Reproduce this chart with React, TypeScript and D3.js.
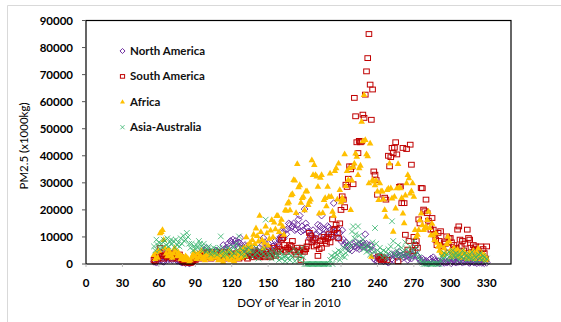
import * as d3 from 'd3'

// first DOY of every series; one value per day after it
const startDay = 56

const northAmerica = [
  800, 1200, 500, 1500, 1000, 2000, 1500, 1000, 800, 1800,
  2000, 1500, 2500, 1800, 2200, 1500, 2000, 2500, 1800, 1200,
  1500, 1000, 800, 500, 1200, 600, 300, 800, 500, 200,
  400, 600, 1000, 1500, 2500, 3000, 2500, 3500, 4000, 3000,
  4500, 3500, 5000, 5900, 4000, 3500, 4500, 3000, 2500, 4000,
  3500, 5000, 4500, 3000, 4000, 3500, 4500, 7000, 5500, 5000,
  6000, 7500, 6500, 8500, 8000, 9000, 7000, 8500, 7500, 6500,
  8000, 9600, 7000, 6000, 5500, 7000, 6500, 4500, 5000, 4000,
  3500, 4500, 5500, 3000, 4000, 5000, 3500, 6000, 4500, 7000,
  9600, 8000, 6500, 5500, 7500, 6000, 5000, 4500, 6500, 7000,
  8500, 6000, 7500, 9000, 10000, 12000, 11500, 9500, 12500, 11000,
  13000, 15000, 14500, 13500, 14000, 15000, 12500, 13000, 14500, 16500,
  17900, 12000, 14000, 12500, 20300, 15000, 13500, 12000, 9500, 11000,
  10500, 12500, 8500, 9500, 11000, 14500, 12000, 14000, 17900, 13000,
  11000, 12500, 10000, 14000, 13500, 12500, 11000, 10500, 22500, 12000,
  10000, 13000, 9500, 11500, 8500, 12500, 9000, 7000, 8000, 6500,
  7000, 5500, 6000, 5000, 7500, 6500, 8000, 6000, 7000, 5500,
  7500, 6500, 8000, 7000, 11000, 7500, 6000, 5500, 7000, 6500,
  5000, 2000, 1500, 2500, 1000, 2000, 3000, 1500, 2500, 1000,
  1500, 2000, 1000, 500, 2500, 3500, 2000, 1500, 3000, 4000,
  2500, 3500, 4500, 3000, 2000, 3500, 2500, 4000, 3000, 1500,
  2500, 3500, 2000, 3000, 4000, 5000, 7100, 3000, 2000, 1500,
  1000, 2000, 1500, 500, 1200, 800, 300, 1500, 2000, 1000,
  2500, 1500, 800, 500, 1000, 300, 600, 1200, 800, 400,
  1000, 500, 800, 1500, 600, 300, 1000, 1400, 700, 500,
  1200, 800, 1600, 1000, 500, 1200, 800, 1500, 1000, 600,
  400, 900, 1300, 700, 500, 1100, 300, 800, 600, 1000,
  400, 700, 300, 900, 500,
]

const southAmerica = [
  1500, 1000, 2500, 2000, 3500, 5900, 4500, 3000, 2000, 3500,
  3000, 2500, 4000, 3500, 3000, 2000, 3500, 4000, 2500, 3000,
  2000, 3500, 2500, 1500, 1000, 800, 500, 1200, 600, 900,
  400, 700, 1000, 2000, 1500, 2500, 3000, 2000, 3500, 2500,
  3000, 4000, 2500, 3500, 3000, 4500, 3500, 2000, 4000, 3500,
  2500, 3000, 4500, 3500, 2500, 4000, 3000, 3500, 2000, 4500,
  3000, 2500, 4000, 3500, 3000, 2000, 3500, 2500, 4000, 3000,
  2000, 3000, 3500, 2500, 4000, 3000, 3500, 2000, 3000, 4500,
  3500, 2500, 4000, 5000, 3500, 3000, 4500, 2500, 3500, 4000,
  3000, 2500, 4500, 3500, 5500, 3000, 2500, 4000, 6000, 3500,
  3000, 5000, 4500, 6500, 5500, 9000, 9600, 7000, 5000, 4500,
  6000, 5500, 7000, 6500, 8500, 5000, 4500, 3500, 6000, 5000,
  4500, 1500, 6000, 5000, 4500, 5500, 6500, 8000, 11500, 10500,
  8000, 9000, 6500, 9500, 7000, 3000, 5500, 8500, 6000, 9000,
  10000, 8500, 7500, 9500, 11000, 8000, 10000, 16500, 12500, 13000,
  14500, 11500, 9500, 15000, 20000, 25000, 23800, 21000, 29300, 28500,
  31500, 36100, 35000, 36000, 29500, 61400, 54600, 45000, 41000, 45500,
  45000, 45300, 55200, 54000, 62600, 71200, 76100, 85000, 66300, 53300,
  64500, 34200, 33000, 31000, 25600, 2800, 2000, 1500, 2500, 1800,
  24500, 23800, 1500, 40000, 36100, 39500, 42900, 41000, 43000, 45000,
  40500, 1000, 28500, 28700, 22500, 42900, 22500, 10800, 42500, 5300,
  8500, 44100, 36700, 4700, 10000, 7000, 8500, 6000, 16500, 15000,
  28100, 28000, 20100, 19500, 23800, 18800, 16000, 13900, 12700, 17000,
  12700, 11000, 9000, 7000, 11500, 8500, 12100, 6500, 5000, 8000,
  7500, 10200, 6000, 9500, 9600, 8000, 4500, 7000, 5500, 6000,
  12700, 13900, 9000, 6500, 8500, 5000, 7500, 4000, 12700, 9600,
  9000, 6000, 4500, 7000, 5500, 6500, 3500, 5000, 4000, 6500,
  3000, 5500, 4000, 2000, 6500,
]

const africa = [
  3500, 2000, 4500, 2500, 5000, 11500, 12000, 12700, 9000, 6000,
  4000, 3000, 5500, 4500, 3500, 2500, 4000, 6000, 5000, 3000,
  4500, 3500, 2000, 3000, 2500, 1500, 3000, 2500, 2000, 1000,
  1500, 2500, 3500, 4500, 3000, 2000, 4000, 2500, 3500, 5000,
  2000, 3000, 1500, 3500, 4000, 2500, 3000, 2000, 4500, 3500,
  2500, 4000, 3000, 1500, 2000, 3500, 4500, 1000, 2500, 4000,
  3000, 2000, 5000, 1500, 3500, 2500, 1200, 3000, 4500, 2000,
  3500, 5500, 2500, 4000, 6000, 3000, 10000, 7000, 5000, 8000,
  6500, 9000, 11000, 7500, 13300, 10500, 8500, 18000, 12000, 9000,
  6000, 8000, 14000, 11500, 7000, 9500, 12500, 16400, 10000, 15500,
  13000, 17900, 18000, 12000, 15000, 16500, 14000, 11000, 20000, 19800,
  22500, 23000, 20000, 25600, 26000, 31200, 31000, 19000, 37100, 28500,
  29300, 22800, 24500, 25000, 20000, 26900, 27000, 22000, 23200, 24000,
  38500, 33000, 36700, 33000, 32500, 28700, 18800, 32000, 33000, 19000,
  23800, 24500, 21500, 28700, 25000, 33600, 25000, 19500, 18000, 34500,
  35500, 24000, 37300, 27500, 23000, 24500, 23800, 40700, 29000, 34500,
  31200, 35500, 20100, 31000, 36000, 37300, 41000, 39800, 33000, 35500,
  36500, 52700, 45500, 62600, 46000, 40700, 40000, 30000, 44700, 2800,
  31200, 30600, 29300, 31000, 26900, 23800, 30000, 27000, 26900, 24000,
  20100, 17600, 27500, 28000, 37300, 28100, 24400, 12100, 25000, 20700,
  28100, 37100, 28500, 28100, 24500, 18800, 15200, 25500, 30000, 33000,
  31800, 26200, 27000, 30000, 25000, 12700, 10200, 11000, 12700, 16400,
  18800, 14500, 12700, 13300, 14000, 16400, 19500, 13500, 10800, 15000,
  10800, 9000, 11500, 8000, 6500, 5000, 7000, 4100, 3500, 6000,
  4100, 7500, 10200, 8500, 5000, 2800, 4000, 6000, 4700, 3500,
  5500, 3000, 4500, 2500, 3800, 5000, 4100, 3000, 2000, 3500,
  4500, 2500, 3000, 5000, 2000, 3500, 4500, 5900, 3000, 2000,
  4000, 2500, 3500, 1500, 2200,
]

const asiaAustralia = [
  6500, 5000, 9000, 7000, 8000, 5500, 7500, 6000, 9000, 8500,
  7000, 9500, 6500, 8000, 9000, 7500, 8500, 6000, 9000, 7000,
  8000, 6500, 9500, 7500, 10500, 8500, 9000, 11500, 10000, 7500,
  6000, 7500, 5000, 6500, 5500, 7000, 6000, 8500, 7500, 6500,
  5000, 7500, 6000, 4500, 5500, 6500, 5000, 3500, 4500, 6000,
  4000, 5500, 3500, 5000, 6000, 10200, 4500, 3000, 5500, 4000,
  3500, 6000, 4500, 5000, 3000, 6500, 4000, 5500, 7500, 4500,
  10200, 6000, 3500, 5000, 4500, 3000, 5500, 4000, 6000, 3500,
  5000, 2500, 4500, 3500, 6000, 4000, 2000, 5000, 3000, 4500,
  3500, 5500, 16400, 2500, 4000, 3000, 4500, 2000, 3500, 5000,
  2500, 4000, 3000, 1500, 4500, 2000, 3500, 2500, 1000, 3000,
  2000, 4000, 1500, 3000, 2500, 5500, 1000, 3500, 2000, 4500,
  1500, 3000, 6000, 2500, 0, 0, 0, 0, 0, 0,
  0, 0, 0, 0, 0, 0, 0, 0, 0, 0,
  0, 0, 0, 0, 0, 1500, 3000, 0, 2500, 4000,
  2000, 3500, 5000, 1500, 4500, 3000, 6000, 2500, 4000, 7000,
  5000, 8000, 6500, 12000, 13900, 9500, 11000, 7500, 13900, 10500,
  8000, 6000, 9000, 5500, 7000, 4500, 6500, 5000, 3500, 6000,
  8000, 4500, 13300, 7500, 5000, 3500, 6000, 4000, 2500, 5000,
  3000, 4500, 2000, 5500, 3500, 6500, 15800, 8500, 4000, 3000,
  5000, 7000, 3500, 2500, 6000, 4500, 3000, 8000, 5500, 3500,
  4500, 6500, 2500, 5000, 8500, 3500, 6000, 4000, 2500, 1500,
  1000, 500, 0, 0, 200, 0, 300, 0, 100, 0,
  0, 400, 0, 200, 0, 0, 1500, 3000, 2000, 4000,
  2500, 3500, 1500, 4500, 3000, 2000, 5000, 3500, 2500, 4000,
  3000, 1500, 3500, 2500, 5000, 2000, 4000, 3000, 1500, 2500,
  3500, 2000, 4500, 1500, 3000, 2500, 1000, 3500, 2000, 4000,
  1500, 3000, 2500, 1000, 2000,
]

const xTicks = [0, 30, 60, 90, 120, 150, 180, 210, 240, 270, 300, 330]
const yTicks = [0, 10000, 20000, 30000, 40000, 50000, 60000, 70000, 80000, 90000]

const seriesNames = ['North America', 'South America', 'Africa', 'Asia-Australia']
const colors = ['#7030A0', '#C00000', '#FFC000', '#33B36B']

const width = 561
const height = 322
const plot = { left: 86, right: 511, top: 20.5, bottom: 264 }
const font = 'Lato, "Open Sans", sans-serif'

function Marker({ kind, x, y, s = 1 }: { kind: number; x: number; y: number; s?: number }) {
  if (kind === 0) {
    const r = 3.4 * s
    return (
      <path
        d={`M${x},${y - r}L${x + r},${y}L${x},${y + r}L${x - r},${y}Z`}
        fill="none"
        stroke={colors[0]}
        strokeWidth={1}
      />
    )
  }
  if (kind === 1) {
    return (
      <rect
        x={x - 2.8 * s}
        y={y - 2.4 * s}
        width={5.6 * s}
        height={4.8 * s}
        fill="none"
        stroke={colors[1]}
        strokeWidth={1}
      />
    )
  }
  if (kind === 2) {
    return (
      <path
        d={`M${x},${y - 3.4 * s}L${x + 3.3 * s},${y + 2.4 * s}L${x - 3.3 * s},${y + 2.4 * s}Z`}
        fill={colors[2]}
      />
    )
  }
  const r = 2.8 * s
  return (
    <path
      d={`M${x - r},${y - r}L${x + r},${y + r}M${x - r},${y + r}L${x + r},${y - r}`}
      stroke={colors[3]}
      strokeWidth={0.8}
      fill="none"
    />
  )
}

export default function App() {
  const x = d3.scaleLinear().domain([0, 350]).range([plot.left, plot.right])
  const y = d3.scaleLinear().domain([0, 90000]).range([plot.bottom, plot.top])
  const allSeries = [northAmerica, southAmerica, africa, asiaAustralia]

  return (
    <svg
      width={width}
      height={height}
      style={{ position: 'absolute', left: 0, top: 0, background: '#fff' }}
      fontFamily={font}
    >
      {/* outer chart frame */}
      <path d={`M7.5,${height}V5.5H${width}`} fill="none" stroke="#d9d9d9" strokeWidth={1} />

      {allSeries.map((vals, si) => (
        <g key={seriesNames[si]}>
          {vals.map((v, i) => (
            <Marker key={i} kind={si} x={x(startDay + i)} y={y(v)} />
          ))}
        </g>
      ))}

      <rect
        x={plot.left}
        y={plot.top}
        width={plot.right - plot.left}
        height={plot.bottom - plot.top}
        fill="none"
        stroke="#000"
        strokeWidth={1.2}
      />

      {yTicks.map((t) => (
        <g key={t}>
          <line x1={plot.left - 4} x2={plot.left} y1={y(t)} y2={y(t)} stroke="#555" />
          <text
            x={73}
            y={y(t)}
            dy="0.35em"
            textAnchor="end"
            fontSize={11.5}
            fontWeight="bold"
            fill="#000"
          >
            {t}
          </text>
        </g>
      ))}

      {xTicks.map((t) => (
        <g key={t}>
          <line x1={x(t)} x2={x(t)} y1={plot.bottom} y2={plot.bottom + 3} stroke="#bbb" />
          <text x={x(t)} y={287} textAnchor="middle" fontSize={11.5} fontWeight="bold" fill="#000">
            {t}
          </text>
        </g>
      ))}

      <text x={289} y={307} textAnchor="middle" fontSize={11.5} fill="#000">
        DOY of Year in 2010
      </text>
      <text
        transform="translate(28,146) rotate(-90)"
        textAnchor="middle"
        fontSize={11.5}
        fill="#000"
      >
        PM2.5 (x1000kg)
      </text>

      {seriesNames.map((name, i) => {
        const ly = 51 + i * 25.4
        return (
          <g key={name}>
            <Marker kind={i} x={122.5} y={ly} s={0.75} />
            <text x={130} y={ly} dy="0.35em" fontSize={11.5} fontWeight="bold" fill="#111">
              {name}
            </text>
          </g>
        )
      })}
    </svg>
  )
}
